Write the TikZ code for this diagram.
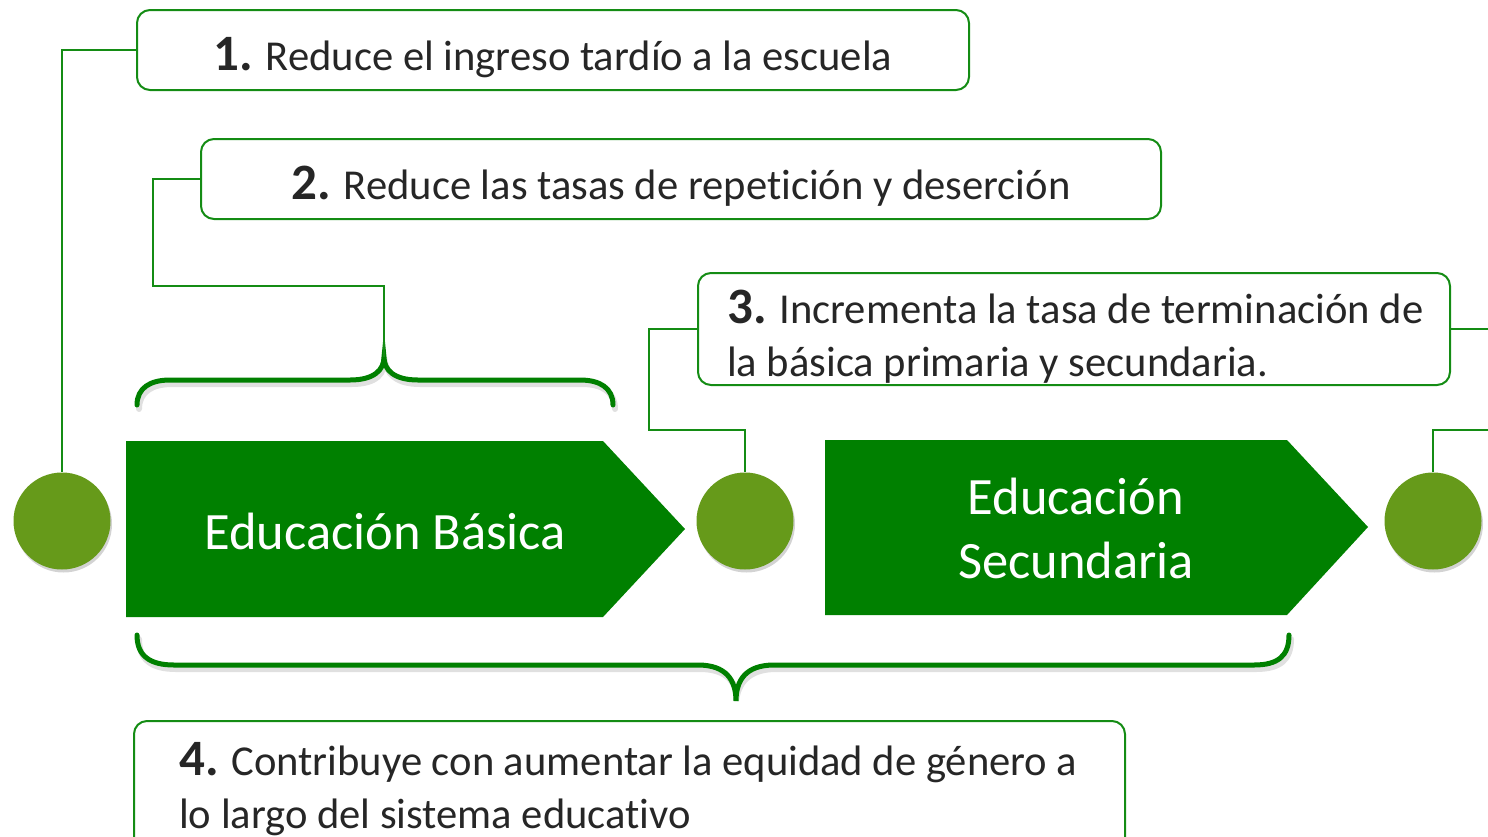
\documentclass[tikz,border=0pt]{standalone}
\usepackage{fontspec}
\setmainfont{Carlito}[Ligatures=CommonOff]
\usetikzlibrary{shadows}
\definecolor{arrgreen}{RGB}{0,128,0}
\definecolor{dotgreen}{RGB}{102,154,26}
\definecolor{linegreen}{RGB}{20,140,20}
\definecolor{txt}{RGB}{38,38,38}
\tikzset{
  box/.style={draw=linegreen, line width=2pt, rounded corners=13pt, fill=white, inner sep=0pt},
  boxtext/.style={text=txt, inner sep=0pt, font=\fontsize{42.6}{53}\selectfont},
  conn/.style={draw=linegreen, line width=2.2pt},
  dot/.style={circle, fill=dotgreen, minimum size=97pt, inner sep=0pt,
    drop shadow={opacity=0.35, shadow xshift=1.5pt, shadow yshift=-3pt}},
  arrowshape/.style={fill=arrgreen},
  arrtext/.style={text=white, font=\fontsize{52.5}{64}\selectfont, align=center},
  bracestyle/.style={draw=arrgreen, line width=5pt, line cap=round},
  braceshadow/.style={draw=black, opacity=0.12, line width=6pt, line cap=round},
}
\newcommand{\num}[1]{{\fontsize{51}{53}\selectfont\bfseries #1}}
\begin{document}
\begin{tikzpicture}[x=1pt,y=-1pt]
\useasboundingbox (0,0) rectangle (1488,836);

% boxes
\node[box, minimum width=832pt, minimum height=80pt] (b1) at (553,50) {};
\node[boxtext, anchor=base] (t1txt) at (553,70) {\num{1.} Reduce el ingreso tardío a la escuela};
\node[box, minimum width=960pt, minimum height=80pt] (b2) at (681,179) {};
\node[boxtext, anchor=base] (t2txt) at (681,199) {\num{2.} Reduce las tasas de repetición y deserción};
\node[box, minimum width=752pt, minimum height=112pt] (b3) at (1074,329) {};
\node[boxtext, anchor=base west] (t3a) at (727,323) {\num{3.} Incrementa la tasa de terminación de};
\node[boxtext, anchor=base west] (t3b) at (727,376) {la básica primaria y secundaria.};
\node[box, minimum width=991pt, minimum height=140pt, anchor=north west] (b4) at (133,720) {};
\node[boxtext, anchor=base west] (t4a) at (179,775) {\num{4.} Contribuye con aumentar la equidad de género a};
\node[boxtext, anchor=base west] (t4b) at (179,828) {lo largo del sistema educativo};

% arrows (pentagons)
\fill[arrowshape] (126,441) -- (603,441) -- (685,529) -- (603,617) -- (126,617) -- cycle;
\node[arrtext] (a1) at (385,531) {Educación Básica};
\fill[arrowshape] (825,440) -- (1287,440) -- (1368,527) -- (1287,615) -- (825,615) -- cycle;
\node[arrtext] (a2) at (1076,528) {Educación\\Secundaria};

% circles
\node[dot] (c1) at (62,521) {};
\node[dot] (c2) at (745,521) {};
\node[dot] (c3) at (1433,521) {};

% braces
\coordinate (t1) at (384,357);
\coordinate (t2) at (736,701);
\draw[braceshadow, xshift=2pt, yshift=-4pt] (137,405) .. controls (137,388) and (150,380) .. (170,380) -- (350,380) .. controls (374,380) and (384,370) .. (t1) .. controls (384,370) and (394,380) .. (418,380) -- (580,380) .. controls (600,380) and (613,388) .. (613,405);
\draw[bracestyle] (137,405) .. controls (137,388) and (150,380) .. (170,380) -- (350,380) .. controls (374,380) and (384,370) .. (t1) .. controls (384,370) and (394,380) .. (418,380) -- (580,380) .. controls (600,380) and (613,388) .. (613,405);
\draw[braceshadow, xshift=2pt, yshift=-4pt] (137,635) .. controls (137,656) and (150,665) .. (174,665) -- (698,665) .. controls (726,665) and (736,680) .. (t2) .. controls (736,680) and (746,665) .. (774,665) -- (1254,665) .. controls (1278,665) and (1289,656) .. (1289,635);
\draw[bracestyle] (137,635) .. controls (137,656) and (150,665) .. (174,665) -- (698,665) .. controls (726,665) and (736,680) .. (t2) .. controls (736,680) and (746,665) .. (774,665) -- (1254,665) .. controls (1278,665) and (1289,656) .. (1289,635);

% connectors
\coordinate (r1) at (1500,329);
\coordinate (r2) at (1500,430);
\draw[conn] (b1.west) -| (c1.north);
\draw[conn] (b2.west) -| (153,286) -| (t1);
\draw[conn] (b3.west) -| (649,430) -| (c2.north);
\draw[conn] (b3.east) -- (r1);
\draw[conn] (c3.north) |- (r2);
\end{tikzpicture}
\end{document}
